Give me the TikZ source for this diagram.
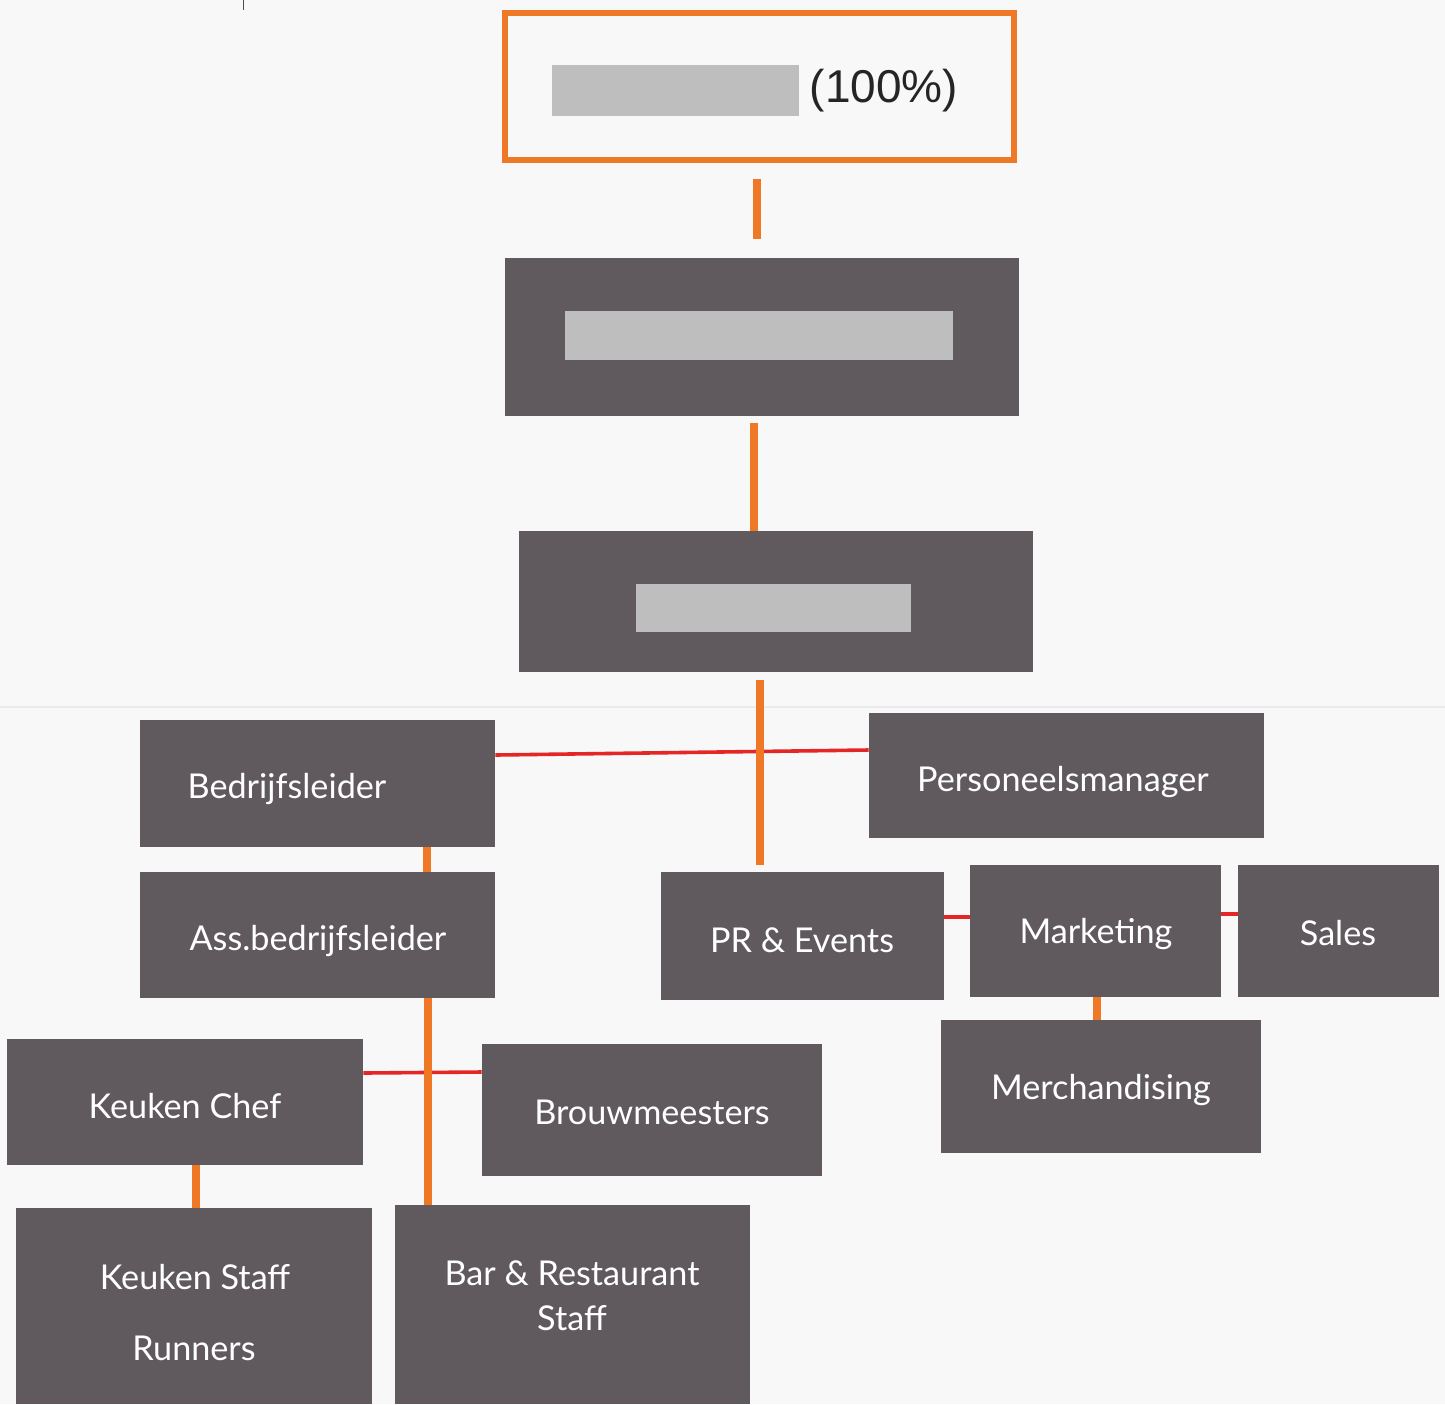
\documentclass[tikz,border=0pt]{standalone}
\usepackage{fontspec}
\setmainfont{Lato}
\newfontfamily\pctfont{Liberation Sans}
\usetikzlibrary{fit,calc}
\definecolor{boxgrey}{RGB}{96,90,94}
\definecolor{redact}{RGB}{190,190,190}
\definecolor{corange}{RGB}{238,120,38}
\definecolor{cred}{RGB}{228,38,38}
\definecolor{paper}{RGB}{248,248,248}
\definecolor{inkdark}{RGB}{38,36,38}
\begin{document}
\begin{tikzpicture}[x=0.5pt,y=-0.5pt,
  box/.style={fill=boxgrey, inner sep=0pt, draw=none},
  redbox/.style={fill=redact, inner sep=0pt, draw=none},
  lbl/.style={text=white, font=\fontsize{17.1}{22.5}\selectfont, inner sep=0pt, align=center},
  oline/.style={draw=corange, line width=4pt},
  rline/.style={draw=cred, line width=1.8pt}]
\fill[paper] (0,0) rectangle (1445,1404);
\useasboundingbox (0,0) rectangle (1445,1404);
% scan marks
\draw[black!70, line width=0.5pt] (243,0) -- (243,10);
\draw[black!8, line width=0.6pt] (0,707) -- (1445,707);

% top box
\node[draw=corange, line width=3pt, inner sep=0pt, fit={(505,13) (1014,160)}] (top) {};
\node[redbox, fit={(552,65) (799,116)}] (r1) {};
\node[text=inkdark, inner sep=0pt, font=\pctfont\fontsize{23}{26}\selectfont] (pct) at (884,91) {(100\%)};

% level boxes
\node[box, fit={(505,258) (1019,416)}] (b2) {};
\node[redbox, fit={(565,311) (953,360)}] (r2) {};
\node[box, fit={(519,531) (1033,672)}] (b3) {};
\node[redbox, fit={(636,584) (911,632)}] (r3) {};

\node[box, fit={(140,720) (495,847)}] (bed) {};
\node[box, fit={(869,713) (1264,838)}] (pers) {};
\node[box, fit={(140,872) (495,998)}] (ass) {};
\node[box, fit={(661,872) (944,1000)}] (pr) {};
\node[box, fit={(970,865) (1221,997)}] (mk) {};
\node[box, fit={(1238,865) (1439,997)}] (sales) {};
\node[box, fit={(941,1020) (1261,1153)}] (merch) {};
\node[box, fit={(7,1039) (363,1165)}] (kc) {};
\node[box, fit={(482,1044) (822,1176)}] (brouw) {};
\node[box, fit={(16,1208) (372,1404)}] (ks) {};
\node[box, fit={(395,1205) (750,1404)}] (bar) {};

% labels
\node[lbl] (tbed) at (287,789) {Bedrijfsleider};
\node[lbl] (tpers) at (1063,782) {Personeelsmanager};
\node[lbl] (tass) at (318,941) {Ass.bedrijfsleider};
\node[lbl] (tpr) at (802,940) {PR \& Events};
\node[lbl] (tmk) at (1096,934) {Marketing};
\node[lbl] (tsales) at (1338,933) {Sales};
\node[lbl] (tmerch) at (1101,1090) {Merchandising};
\node[lbl] (tkc) at (185,1106) {Keuken Chef};
\node[lbl] (tbrouw) at (652,1112) {Brouwmeesters};
\node[lbl] (tks) at (195,1277) {Keuken Staff};
\node[lbl] (trun) at (194,1348) {Runners};
\node[lbl] (tbar) at (572,1296) {Bar \& Restaurant\\Staff};

% red connectors
\draw[rline] ($(bed.east)+(0,-28.5)$) -- ($(pers.west)+(0,-25.5)$);
\draw[rline] ($(pr.east)+(0,-19)$) -- ($(mk.west)+(0,-14)$);
\draw[rline] ($(mk.east)+(0,-17)$) -- ($(sales.west)+(0,-17)$);
\draw[rline] ($(kc.east)+(0,-29)$) -- ($(brouw.west)+(0,-38)$);

% orange connectors
\draw[oline] ($(top.south)+(-2.5,16)$) -- ($(b2.north)+(-5,-19)$);
\draw[oline] ($(b2.south)+(-8,7)$) -- ($(b3.north)+(-22,0)$);
\draw[oline] ($(b3.south)+(-16,8)$) -- ($(pr.north)+(-42.5,-7)$);
\draw[oline] ($(bed.south)+(109.5,0)$) -- ($(ass.north)+(109.5,0)$);
\draw[oline] ($(mk.south)+(1.5,0)$) -- ($(merch.north)+(-4,0)$);
\draw[oline] ($(ass.south)+(110.5,0)$) -- ($(bar.north)+(-144.5,0)$);
\draw[oline] ($(kc.south)+(11,0)$) -- ($(ks.north)+(2,0)$);
\end{tikzpicture}
\end{document}
